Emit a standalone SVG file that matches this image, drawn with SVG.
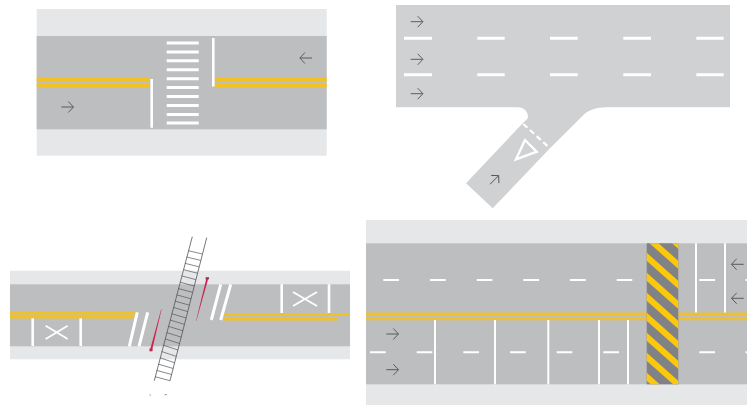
<svg xmlns="http://www.w3.org/2000/svg" width="747" height="405" viewBox="0 0 747 405">
<style>
.side{fill:#e6e7e8}
.road{fill:#bcbec0}
.road2{fill:#cfd1d3}
.yel{stroke:#f2c224;stroke-width:3.4;fill:none}
.yel2{stroke:#f0bf30;stroke-width:2.4;fill:none}
.wh{stroke:#fff;fill:none;stroke-width:2.6}
.wh3{stroke:#fff;fill:none;stroke-width:3}
.arr{stroke:#4f5052;stroke-width:.9;fill:none}
.tie{stroke:#55565a;stroke-width:.7;fill:none}
</style>
<defs>
<g id="ar"><path class="arr" d="M-6 0H6M1 -5.5L6.2 0L1 5.5"/></g>
<clipPath id="hc"><rect x="646.7" y="243.3" width="31.6" height="141"/></clipPath>
</defs>
<rect width="747" height="405" fill="#fff"/>
<g id="crosswalk-panel">
<rect class="side" x="36.7" y="9" width="290" height="146.7"/>
<rect class="road" x="36.7" y="36" width="290" height="93.3"/>
<path class="yel" d="M36.7 79.5H150M36.7 85.7H150M214.5 79.5H326.7M214.5 85.7H326.7"/>
<path class="wh" d="M151.7 79V127.7M213.3 38V86.5"/>
<path class="wh3" d="M166.7 43H198.7M166.7 52H198.7M166.7 60.7H198.7M166.7 69.7H198.7M166.7 78.7H198.7M166.7 87.5H198.7M166.7 96.5H198.7M166.7 105.5H198.7M166.7 114.5H198.7M166.7 123H198.7"/>
<use href="#ar" x="67.3" y="107"/>
<use href="#ar" transform="translate(306 58) rotate(180)"/>
</g>
<g id="yield-panel">
<path class="road2" d="M396 5H730V107.3H606.7C596 107.3 588 110 581.7 116.7L550 148.3L492.7 208.3L466 183.3L522.7 123.3L527.7 118.5C529 112 524 107.3 518 107.3H396Z"/>
<path d="M404 38.3H432M477.3 38.3H504.7M550 38.3H577.7M623.3 38.3H651M696.3 38.3H723.7M404 74.7H432M477.3 74.7H504.7M550 74.7H577.7M623.3 74.7H651M696.3 74.7H723.7" class="wh3"/>
<path d="M523.3 124L550 148.3" stroke="#fff" stroke-width="2.2" stroke-dasharray="5.5 3.5" fill="none"/>
<path d="M525 140L536.7 151.7L516 159.3Z" stroke="#fff" stroke-width="2.4" fill="none"/>
<use href="#ar" x="416.7" y="21.7"/>
<use href="#ar" x="416.7" y="59.3"/>
<use href="#ar" x="416.7" y="93.7"/>
<use href="#ar" transform="translate(494.3 180) rotate(-45)"/>
</g>
<g id="rail-panel">
<rect class="side" x="10" y="270.7" width="340" height="88.6"/>
<rect class="road" x="10" y="284.3" width="340" height="62"/>
<path class="yel" style="stroke-width:2.4" d="M10 313.3H137M10 317.3H134M224 314.3H350M224 319.3H337"/>
<path class="wh" d="M32.7 318.3V346M80.7 318.3V346M281.7 284.3V313M329 284.3V313"/>
<path d="M45.7 339L67.7 325.8M45.7 325.8L67.7 339M293 292L317 306M293 306L317 292" stroke="#fff" stroke-width="1.8" fill="none"/>
<path class="wh3" d="M137.3 312.3L129.3 346.3M147.7 312.3L139 346.3M220.7 284.3L211.3 320M230.7 284.3L220.7 320"/>
<path d="M161.6 309.3L161.2 309.3L150 350L152 350.4Z" fill="#c8234f"/>
<rect x="149.5" y="348.5" width="3" height="2.8" fill="#c8234f"/>
<path d="M206.4 278.3L208.2 278.7L196.3 321L196 321Z" fill="#c8234f"/>
<rect x="205.6" y="277.2" width="3.4" height="2.2" fill="#a8304e"/>
<path class="tie" style="stroke-width:.8" d="M192.3 236.7L154.3 380.7M206.7 237.7L170 380.7"/>
<path class="tie" d="M188.3 250.7L202.3 254M186.6 257L200.7 260.4M185 263.3L199 266.8M183.3 269.6L197.4 273.2M181.6 275.9L195.8 279.6M180 282.2L194.2 286M178.3 288.5L192.6 292.4M176.6 294.8L191 298.8M175 301.1L189.4 305.2M173.3 307.4L187.8 311.6M171.6 313.7L186.2 318M170 320L184.6 324.4M168.3 326.3L183 330.8M166.6 332.6L181.4 337.2M165 338.9L179.8 343.6M163.3 345.2L178 350M161.6 351.5L176.4 356.4M160 357.8L174.8 362.8M158.3 364.1L173.2 368.5M156.6 370.4L171.6 374.5M155 376.7L170 380.7"/>
<path d="M149.5 395H151M164.5 395L167 394.4" stroke="#9a9b9d" stroke-width="1" fill="none"/>
</g>
<g id="hatched-panel">
<rect class="side" x="366" y="220" width="381" height="185"/>
<rect class="road" x="366" y="243.3" width="381" height="141"/>
<path class="yel2" d="M366 313.7H647M366 319H647M678 313.7H747M678 319H747"/>
<path class="wh" style="stroke-width:2" d="M383.3 280H399M430 280H445.7M476.7 280H492.3M523.3 280H539M570 280H585.7M616.7 280H632.3M699.3 280H715M745.5 280H747M370 352.3H385.7M416.7 352.3H432.3M463.3 352.3H479M510 352.3H525.7M556.7 352.3H572.3M603.3 352.3H619M699.3 352.3H715M745.5 352.3H747"/>
<path class="wh" style="stroke-width:2" d="M696 243.3V312.5M725 243.3V312.5M435 320V384.3M495 320V384.3M548.3 320V384.3M599 320V384.3M628 320V384.3"/>
<rect x="646.7" y="243.3" width="31.6" height="141" fill="#808285"/>
<g clip-path="url(#hc)" stroke="#fcc80c" stroke-width="6" fill="none">
<path d="M640 210.8L685 250.8M640 230.8L685 270.8M640 250.8L685 290.8M640 270.8L685 310.8M640 290.8L685 330.8M640 310.8L685 350.8M640 330.8L685 370.8M640 350.8L685 390.8M640 370.8L685 410.8"/>
</g>
<use href="#ar" x="392.3" y="334"/>
<use href="#ar" x="392.3" y="369.7"/>
<use href="#ar" transform="translate(737.7 264.3) rotate(180)"/>
<use href="#ar" transform="translate(737.7 298.3) rotate(180)"/>
</g>
</svg>
